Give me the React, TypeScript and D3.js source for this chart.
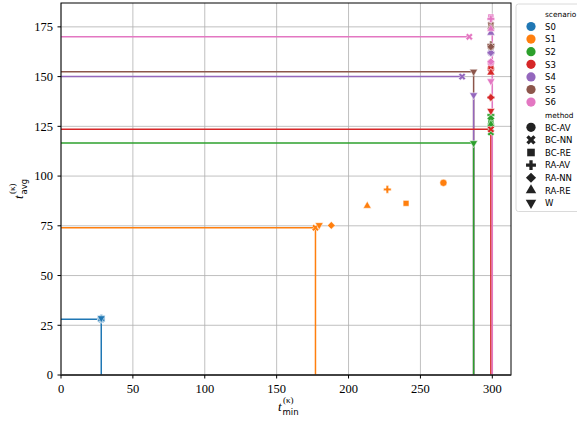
import React from "react";
import * as d3 from "d3";

const scenarios = ["S0", "S1", "S2", "S3", "S4", "S5", "S6"];
const methods = ["BC-AV", "BC-NN", "BC-RE", "RA-AV", "RA-NN", "RA-RE", "W"];
const scenarioColors = ["#1f77b4", "#ff7f0e", "#2ca02c", "#d62728", "#9467bd", "#8c564b", "#e377c2"];

// t_min per method (BC-AV, BC-NN, BC-RE, RA-AV, RA-NN, RA-RE, W)
const tMinS0 = [28, 28, 28.5, 28, 28, 28, 28];
const tMinS1 = [266, 177, 240, 227, 188, 213, 179.6];
const tMinS2 = [299, 299, 299, 299, 299, 299, 287];
const tMinS3 = [299, 299, 299, 299, 299, 299, 299];
const tMinS4 = [299, 279, 299, 299, 299, 299, 287];
const tMinS5 = [299, 299, 299, 299, 299, 299, 287];
const tMinS6 = [299, 284, 299, 299, 299, 299, 299];

// t_avg per method
const tAvgS0 = [28, 28, 28.3, 28.5, 28, 28.2, 28.6];
const tAvgS1 = [96.6, 74, 86.3, 93.3, 75.2, 85, 75.4];
const tAvgS2 = [125.6, 122, 127.3, 130.7, 129, 126, 116.6];
const tAvgS3 = [154, 123.5, 155, 139.5, 139.5, 152, 132.8];
const tAvgS4 = [162, 150, 165, 162, 162, 172, 140.7];
const tAvgS5 = [165, 176, 176, 166, 165, 175, 152.5];
const tAvgS6 = [157, 170, 180, 179, 157.5, 174, 147.7];

const tMinAll = [tMinS0, tMinS1, tMinS2, tMinS3, tMinS4, tMinS5, tMinS6];
const tAvgAll = [tAvgS0, tAvgS1, tAvgS2, tAvgS3, tAvgS4, tAvgS5, tAvgS6];

// reference lines per scenario: horizontal (0 -> hEndX at hY), vertical (vX, 0 -> vTopY)
const hY = [28, 74, 116.6, 123.5, 150, 152.5, 170];
const hEndX = [28, 177, 287, 299, 279, 287, 284];
const vX = [28, 177, 287, 299, 287, 287, 300];
const vTopY = [28, 74, 116.6, 123.5, 140.7, 152.5, 180];
const lineOrder = [5, 4, 3, 2, 1, 0, 6];

const xTicks = [0, 50, 100, 150, 200, 250, 300];
const yTicks = [0, 25, 50, 75, 100, 125, 150, 175];

const W = 577;
const H = 421;
const left = 61, right = 511, top = 3, bottom = 375;

const x = d3.scaleLinear().domain([0, 313]).range([left, right]);
const y = d3.scaleLinear().domain([0, 187]).range([bottom, top]);

function markerPath(method: string, scale: number): { d: string; rot: number } {
  const s = scale;
  switch (method) {
    case "BC-AV":
      return { d: d3.symbol(d3.symbolCircle, 40 * s)()!, rot: 0 };
    case "BC-NN":
      return { d: d3.symbol(d3.symbolCross, 32 * s)()!, rot: 45 };
    case "BC-RE":
      return { d: d3.symbol(d3.symbolSquare, 34 * s)()!, rot: 0 };
    case "RA-AV":
      return { d: d3.symbol(d3.symbolCross, 32 * s)()!, rot: 0 };
    case "RA-NN":
      return { d: d3.symbol(d3.symbolSquare, 30 * s)()!, rot: 45 };
    case "RA-RE":
      return { d: d3.symbol(d3.symbolTriangle, 28 * s)()!, rot: 0 };
    default:
      return { d: d3.symbol(d3.symbolTriangle, 28 * s)()!, rot: 180 };
  }
}

const serif = "'Liberation Serif', 'DejaVu Serif', serif";
const sans = "'DejaVu Sans', sans-serif";

export default function App() {
  const points: { x: number; y: number; c: string; m: string; key: string }[] = [];
  scenarios.forEach((s, i) => {
    methods.forEach((m, j) => {
      points.push({ x: tMinAll[i][j], y: tAvgAll[i][j], c: scenarioColors[i], m, key: s + m });
    });
  });

  const legX = 516;
  const legRowY0 = 26.5;
  const legStep = 12.6;

  return (
    <svg
      width={W}
      height={H}
      style={{ position: "absolute", left: 0, top: 0, background: "#fff" }}
    >
      <rect x={0} y={0} width={W} height={H} fill="#fff" />
      {/* grid */}
      {xTicks.map((t) => (
        <line key={"gx" + t} x1={x(t)} x2={x(t)} y1={top} y2={bottom} stroke="#b0b0b0" strokeWidth={0.8} />
      ))}
      {yTicks.map((t) => (
        <line key={"gy" + t} x1={left} x2={right} y1={y(t)} y2={y(t)} stroke="#b0b0b0" strokeWidth={0.8} />
      ))}

      {/* reference lines */}
      {lineOrder.map((i) => (
        <g key={"ln" + i}>
          <line x1={x(0)} x2={x(hEndX[i])} y1={y(hY[i])} y2={y(hY[i])} stroke={scenarioColors[i]} strokeWidth={1.5} />
          <line x1={x(vX[i])} x2={x(vX[i])} y1={y(0)} y2={y(vTopY[i])} stroke={scenarioColors[i]} strokeWidth={1.5} />
        </g>
      ))}

      {/* markers */}
      {points.map((p) => {
        const mk = markerPath(p.m, 1);
        return (
          <path
            key={p.key}
            d={mk.d}
            transform={`translate(${x(p.x)},${y(p.y)}) rotate(${mk.rot})`}
            fill={p.c}
            stroke="#fff"
            strokeWidth={0.5}
          />
        );
      })}

      {/* spines */}
      <rect x={left} y={top} width={right - left} height={bottom - top} fill="none" stroke="#000" strokeWidth={1} />
      <line x1={left} x2={right} y1={bottom} y2={bottom} stroke="#333" strokeWidth={1.6} />

      {/* x ticks */}
      {xTicks.map((t) => (
        <g key={"xt" + t}>
          <line x1={x(t)} x2={x(t)} y1={bottom} y2={bottom + 3.5} stroke="#000" strokeWidth={1} />
          <text x={x(t)} y={393} textAnchor="middle" fontFamily={serif} fontSize={12.5} fill="#000">
            {t}
          </text>
        </g>
      ))}
      {/* y ticks */}
      {yTicks.map((t) => (
        <g key={"yt" + t}>
          <line x1={left - 3.5} x2={left} y1={y(t)} y2={y(t)} stroke="#000" strokeWidth={1} />
          <text x={53} y={y(t) + 4.3} textAnchor="end" fontFamily={serif} fontSize={12.5} fill="#000">
            {t}
          </text>
        </g>
      ))}

      {/* x label */}
      <g transform="translate(278,411)">
        <text x={0} y={0} fontFamily={serif} fontStyle="italic" fontSize={13} fill="#000">t</text>
        <text x={5} y={-8} fontFamily={serif} fontSize={9} fill="#000">(κ)</text>
        <text x={4.5} y={4} fontFamily={sans} fontSize={8.5} fill="#000">min</text>
      </g>
      {/* y label */}
      <g transform="translate(23,199) rotate(-90)">
        <text x={0} y={0} fontFamily={serif} fontStyle="italic" fontSize={13} fill="#000">t</text>
        <text x={5} y={-8} fontFamily={serif} fontSize={9} fill="#000">(κ)</text>
        <text x={4.5} y={4} fontFamily={sans} fontSize={8.5} fill="#000">avg</text>
      </g>

      {/* legend */}
      <rect x={legX} y={4} width={80} height={207.5} rx={2.5} fill="#fff" fillOpacity={0.8} stroke="#d0d0d0" strokeWidth={0.8} />
      <text x={545} y={16.5} fontFamily={sans} fontSize={7.4} fill="#000">scenario</text>
      {scenarios.map((s, i) => (
        <g key={"lg" + s}>
          <circle cx={531} cy={legRowY0 + i * legStep} r={4.6} fill={scenarioColors[i]} />
          <text x={545} y={legRowY0 + i * legStep + 3.2} fontFamily={sans} fontSize={8.5} fill="#000">
            {s}
          </text>
        </g>
      ))}
      <text x={545} y={legRowY0 + 7 * legStep + 3} fontFamily={sans} fontSize={7.4} fill="#000">method</text>
      {methods.map((m, j) => {
        const cy = legRowY0 + (8 + j) * legStep;
        const mk = markerPath(m, 1.7);
        return (
          <g key={"lm" + m}>
            <path d={mk.d} transform={`translate(531,${cy}) rotate(${mk.rot})`} fill="#222" />
            <text x={545} y={cy + 3.2} fontFamily={sans} fontSize={8.5} fill="#000">
              {m}
            </text>
          </g>
        );
      })}
    </svg>
  );
}
